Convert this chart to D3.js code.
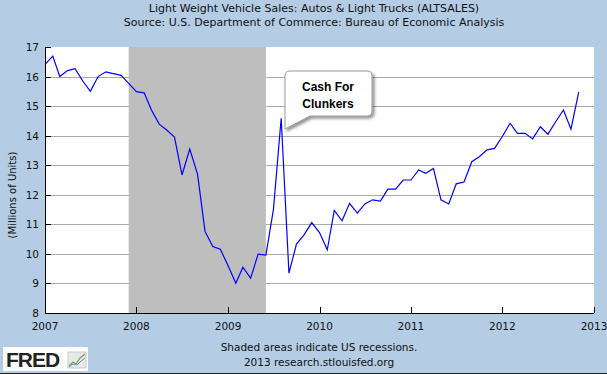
<!DOCTYPE html>
<html lang="en">
<head>
<meta charset="UTF-8">
<title>ALTSALES</title>
<script src="https://d3js.org/d3.v7.min.js"></script>
<style>
    body { margin: 0; padding: 0; background: #b4cce4; }
    svg { display: block; font-family: "DejaVu Sans", sans-serif; }
</style>
</head>
<body>
<svg id="chart" width="607" height="374"></svg>
<script>
    // monthly values, Jan 2007 .. Nov 2012 (millions of units)
    var sales2007 = [16.41, 16.69, 16.00, 16.20, 16.27, 15.85, 15.50, 16.00, 16.16, 16.10, 16.04, 15.77];
    var sales2008 = [15.49, 15.45, 14.87, 14.39, 14.19, 13.95, 12.67, 13.55, 12.70, 10.76, 10.25, 10.16];
    var sales2009 = [9.60, 9.01, 9.55, 9.18, 9.99, 9.96, 11.50, 14.59, 9.35, 10.33, 10.65, 11.06];
    var sales2010 = [10.72, 10.14, 11.47, 11.12, 11.71, 11.38, 11.69, 11.83, 11.79, 12.19, 12.19, 12.50];
    var sales2011 = [12.50, 12.84, 12.73, 12.89, 11.83, 11.69, 12.37, 12.43, 13.12, 13.29, 13.52, 13.57];
    var sales2012 = [13.97, 14.42, 14.08, 14.08, 13.89, 14.30, 14.05, 14.47, 14.87, 14.22, 15.47];
    var years = [2007, 2008, 2009, 2010, 2011, 2012];
    var yTicks = [8, 9, 10, 11, 12, 13, 14, 15, 16, 17];
    var xTickYears = [2007, 2008, 2009, 2010, 2011, 2012, 2013];
    var recession = ["2007-12-01", "2009-06-01"];
    var callout = ["Cash For", "Clunkers"];

    var allYears = [sales2007, sales2008, sales2009, sales2010, sales2011, sales2012];
    var data = [];
    allYears.forEach(function (vals, yi) {
        vals.forEach(function (v, m) {
            data.push({ date: new Date(years[yi], m, 1), value: v });
        });
    });

    var svg = d3.select("#chart");
    var plotLeft = 45, plotRight = 594, plotTop = 47, plotBottom = 313;

    var x = d3.scaleTime()
        .domain([new Date(2007, 0, 1), new Date(2013, 0, 1)])
        .range([plotLeft, plotRight]);
    var y = d3.scaleLinear().domain([8, 17]).range([plotBottom, plotTop]);

    // titles
    svg.append("text").attr("x", 314).attr("y", 11.5).attr("text-anchor", "middle")
        .attr("font-size", 11).attr("fill", "#111")
        .text("Light Weight Vehicle Sales: Autos & Light Trucks (ALTSALES)");
    svg.append("text").attr("x", 314).attr("y", 25.5).attr("text-anchor", "middle")
        .attr("font-size", 11).attr("fill", "#111")
        .text("Source: U.S. Department of Commerce: Bureau of Economic Analysis");

    // plot background
    svg.append("rect").attr("x", plotLeft).attr("y", plotTop)
        .attr("width", plotRight - plotLeft).attr("height", plotBottom - plotTop).attr("fill", "#fff");

    // gridlines
    svg.append("g").selectAll("line")
        .data(yTicks.filter(function (d) { return d > 8 && d < 17; }))
        .enter().append("line")
        .attr("x1", plotLeft).attr("x2", plotRight)
        .attr("y1", function (d) { return Math.round(y(d)) + 0.5; })
        .attr("y2", function (d) { return Math.round(y(d)) + 0.5; })
        .attr("stroke", "#aaa").attr("stroke-width", 1);

    // recession shading
    var r0 = x(new Date(recession[0])), r1 = x(new Date(recession[1]));
    svg.append("rect").attr("x", r0).attr("y", plotTop)
        .attr("width", r1 - r0).attr("height", plotBottom - plotTop)
        .attr("fill", "#bebebe");

    // axes
    var yAxis = svg.append("g");
    yAxis.append("line").attr("x1", plotLeft + 0.5).attr("x2", plotLeft + 0.5)
        .attr("y1", plotTop).attr("y2", plotBottom + 1).attr("stroke", "#000");
    yAxis.selectAll("line.tick").data(yTicks).enter().append("line")
        .attr("class", "tick")
        .attr("x1", plotLeft).attr("x2", plotLeft + 6)
        .attr("y1", function (d) { return Math.round(y(d)) + 0.5; })
        .attr("y2", function (d) { return Math.round(y(d)) + 0.5; })
        .attr("stroke", "#000");
    yAxis.selectAll("text").data(yTicks).enter().append("text")
        .attr("x", 39).attr("y", function (d) { return y(d) + 4; })
        .attr("text-anchor", "end").attr("font-size", 10.5).attr("fill", "#111")
        .text(function (d) { return d; });

    var xAxis = svg.append("g");
    xAxis.append("line").attr("x1", plotLeft).attr("x2", plotRight)
        .attr("y1", plotBottom + 0.5).attr("y2", plotBottom + 0.5).attr("stroke", "#000");
    xAxis.selectAll("line.tick").data(xTickYears).enter().append("line")
        .attr("class", "tick")
        .attr("x1", function (d) { return Math.round(x(new Date(d, 0, 1))) + 0.5; })
        .attr("x2", function (d) { return Math.round(x(new Date(d, 0, 1))) + 0.5; })
        .attr("y1", plotBottom).attr("y2", plotBottom - 6)
        .attr("stroke", "#000");
    xAxis.selectAll("text").data(xTickYears).enter().append("text")
        .attr("x", function (d) { return x(new Date(d, 0, 1)); })
        .attr("y", 330).attr("text-anchor", "middle")
        .attr("font-size", 10.5).attr("fill", "#111")
        .text(function (d) { return d; });

    svg.append("text").attr("transform", "translate(16,195) rotate(-90)")
        .attr("text-anchor", "middle").attr("font-size", 10).attr("fill", "#111")
        .text("(Millions of Units)");

    // series line
    var line = d3.line()
        .x(function (d) { return x(d.date); })
        .y(function (d) { return y(d.value); });
    svg.append("path").datum(data)
        .attr("d", line).attr("fill", "none")
        .attr("stroke", "#0000ff").attr("stroke-width", 1.2);

    // callout bubble
    var defs = svg.append("defs");
    var f = defs.append("filter").attr("id", "shadow")
        .attr("x", "-20%").attr("y", "-20%").attr("width", "150%").attr("height", "160%");
    f.append("feDropShadow").attr("dx", 2).attr("dy", 2).attr("stdDeviation", 1.5)
        .attr("flood-color", "#000").attr("flood-opacity", 0.45);

    svg.append("path")
        .attr("d", "M290,71 H367 Q372,71 372,76 V111 Q372,116 367,116 H310 L285,129 V76 Q285,71 290,71 Z")
        .attr("fill", "#fff").attr("stroke", "#999").attr("stroke-width", 1)
        .attr("filter", "url(#shadow)");
    svg.selectAll("text.callout").data(callout).enter().append("text")
        .attr("class", "callout")
        .attr("x", 328).attr("y", function (d, i) { return 91 + i * 17; })
        .attr("text-anchor", "middle")
        .attr("font-family", "Liberation Sans, Arial, sans-serif")
        .attr("font-weight", "bold").attr("font-size", 12).attr("fill", "#000")
        .text(function (d) { return d; });

    // footer
    svg.append("text").attr("x", 319).attr("y", 351).attr("text-anchor", "middle")
        .attr("font-size", 10.5).attr("fill", "#111")
        .text("Shaded areas indicate US recessions.");
    svg.append("text").attr("x", 319).attr("y", 366).attr("text-anchor", "middle")
        .attr("font-size", 10.5).attr("fill", "#111")
        .text("2013 research.stlouisfed.org");

    // FRED logo
    svg.append("rect").attr("x", 3).attr("y", 347).attr("width", 85).attr("height", 24).attr("fill", "#fff");
    svg.append("text").attr("x", 6).attr("y", 367)
        .attr("font-family", "Liberation Sans, Arial, sans-serif")
        .attr("font-weight", "bold").attr("font-size", 21).attr("letter-spacing", -1)
        .attr("fill", "#222").text("FRED");
    svg.append("rect").attr("x", 68).attr("y", 352).attr("width", 18).attr("height", 16)
        .attr("fill", "#e8e8e8").attr("stroke", "#ccc");
    svg.append("polyline").attr("points", "69,366 73,362 76,364 80,358 85,354")
        .attr("fill", "none").attr("stroke", "#6aa84f").attr("stroke-width", 1.2);
    svg.append("polyline").attr("points", "69,367 73,364 77,365 81,361 85,358")
        .attr("fill", "none").attr("stroke", "#6d8fc7").attr("stroke-width", 1);

    // bottom border
    svg.append("line").attr("x1", 0).attr("x2", 607).attr("y1", 373.5).attr("y2", 373.5)
        .attr("stroke", "#222");
</script>
</body>
</html>
